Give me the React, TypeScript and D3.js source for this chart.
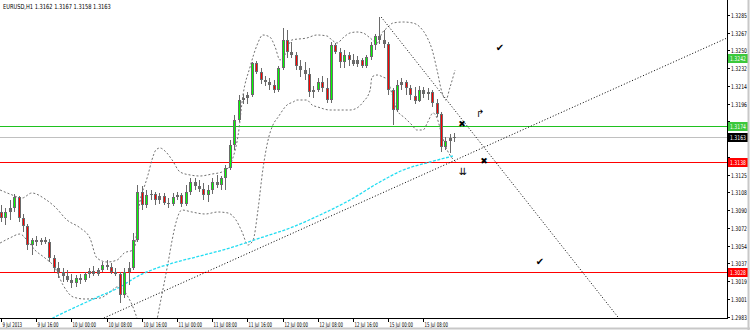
import React from 'react';
import * as d3 from 'd3';

const chartTitle = 'EURUSD,H1  1.3162 1.3167 1.3158 1.3163';

const opens = [1.3088,1.3082,1.3088,1.3092,1.3103,1.3082,1.3074,1.3055,1.3060,1.3058,1.3060,1.3058,1.3042,1.3032,1.3028,1.3024,1.3020,1.3017,1.3022,1.3020,1.3026,1.3029,1.3026,1.3030,1.3035,1.3033,1.3028,1.3026,1.3005,1.3028,1.3032,1.3060,1.3108,1.3095,1.3105,1.3106,1.3100,1.3104,1.3097,1.3096,1.3103,1.3105,1.3096,1.3108,1.3118,1.3114,1.3111,1.3105,1.3110,1.3118,1.3115,1.3122,1.3132,1.3155,1.3180,1.3200,1.3202,1.3205,1.3237,1.3228,1.3220,1.3218,1.3215,1.3210,1.3232,1.3260,1.3248,1.3245,1.3234,1.3230,1.3226,1.3208,1.3210,1.3218,1.3212,1.3200,1.3255,1.3248,1.3238,1.3245,1.3240,1.3236,1.3240,1.3234,1.3243,1.3255,1.3264,1.3260,1.3256,1.3210,1.3190,1.3215,1.3218,1.3212,1.3204,1.3199,1.3210,1.3206,1.3208,1.3197,1.3186,1.3153,1.3159,1.3162];
const highs = [1.3095,1.3092,1.3100,1.3106,1.3104,1.3086,1.3076,1.3062,1.3064,1.3062,1.3063,1.3061,1.3045,1.3038,1.3032,1.3030,1.3026,1.3025,1.3026,1.3028,1.3032,1.3034,1.3032,1.3038,1.3040,1.3037,1.3032,1.3028,1.3032,1.3038,1.3067,1.3115,1.3114,1.3110,1.3110,1.3108,1.3107,1.3107,1.3102,1.3107,1.3108,1.3107,1.3115,1.3122,1.3122,1.3120,1.3117,1.3115,1.3122,1.3125,1.3124,1.3135,1.3160,1.3185,1.3205,1.3206,1.3208,1.3238,1.3239,1.3232,1.3224,1.3222,1.3220,1.3234,1.3272,1.3270,1.3258,1.3248,1.3240,1.3238,1.3232,1.3214,1.3222,1.3224,1.3222,1.3258,1.3257,1.3252,1.3250,1.3248,1.3246,1.3244,1.3242,1.3245,1.3258,1.3266,1.3283,1.3270,1.3258,1.3212,1.3220,1.3222,1.3220,1.3215,1.3213,1.3214,1.3213,1.3212,1.3210,1.3201,1.3188,1.3163,1.3166,1.3167];
const lows = [1.3078,1.3075,1.3080,1.3088,1.3078,1.3068,1.3050,1.3045,1.3054,1.3055,1.3056,1.3038,1.3028,1.3022,1.3018,1.3018,1.3012,1.3013,1.3016,1.3018,1.3022,1.3024,1.3024,1.3028,1.3030,1.3026,1.3024,1.2997,1.3002,1.3015,1.3030,1.3058,1.3090,1.3092,1.3100,1.3095,1.3096,1.3095,1.3092,1.3094,1.3100,1.3093,1.3094,1.3105,1.3110,1.3108,1.3100,1.3098,1.3106,1.3112,1.3110,1.3110,1.3130,1.3150,1.3178,1.3196,1.3196,1.3203,1.3226,1.3216,1.3214,1.3210,1.3207,1.3208,1.3230,1.3242,1.3242,1.3230,1.3223,1.3220,1.3203,1.3202,1.3208,1.3208,1.3197,1.3197,1.3246,1.3232,1.3232,1.3234,1.3234,1.3233,1.3232,1.3232,1.3240,1.3250,1.3256,1.3252,1.3205,1.3175,1.3188,1.3210,1.3205,1.3200,1.3196,1.3198,1.3202,1.3200,1.3193,1.3183,1.3148,1.3150,1.3147,1.3158];
const closes = [1.3082,1.3088,1.3092,1.3103,1.3082,1.3074,1.3055,1.3060,1.3058,1.3060,1.3058,1.3042,1.3032,1.3028,1.3024,1.3020,1.3017,1.3022,1.3020,1.3026,1.3029,1.3026,1.3030,1.3035,1.3033,1.3028,1.3026,1.3005,1.3028,1.3032,1.3060,1.3108,1.3095,1.3105,1.3106,1.3100,1.3104,1.3097,1.3096,1.3103,1.3105,1.3096,1.3108,1.3118,1.3114,1.3111,1.3105,1.3110,1.3118,1.3115,1.3122,1.3132,1.3155,1.3180,1.3200,1.3202,1.3205,1.3237,1.3228,1.3220,1.3218,1.3215,1.3210,1.3232,1.3260,1.3248,1.3245,1.3234,1.3230,1.3226,1.3208,1.3210,1.3218,1.3212,1.3200,1.3255,1.3248,1.3238,1.3245,1.3240,1.3236,1.3240,1.3234,1.3243,1.3255,1.3264,1.3260,1.3256,1.3210,1.3190,1.3215,1.3218,1.3212,1.3205,1.3199,1.3210,1.3206,1.3208,1.3197,1.3186,1.3153,1.3159,1.3162,1.3163];

// Bollinger bands and moving average: [bar index, price]
const upperBand: [number, number][] = [[-0.2,1.3110],[2.0,1.3106],[4.8,1.3102],[7.0,1.3107],[10.0,1.3101],[12.3,1.3093],[15.0,1.3080],[18.0,1.3072],[20.2,1.3062],[21.8,1.3042],[24.1,1.3038],[26.4,1.3040],[28.0,1.3047],[30.0,1.3050],[30.5,1.3055],[31.1,1.3085],[31.8,1.3103],[32.7,1.3115],[33.4,1.3125],[34.3,1.3140],[35.2,1.3150],[36.1,1.3152],[37.5,1.3148],[38.9,1.3140],[40.7,1.3128],[43.0,1.3125],[45.2,1.3124],[48.0,1.3126],[50.2,1.3128],[51.6,1.3132],[52.7,1.3142],[53.9,1.3165],[55.0,1.3205],[56.6,1.3233],[58.2,1.3255],[59.5,1.3265],[61.1,1.3263],[62.3,1.3253],[63.4,1.3240],[64.5,1.3245],[66.1,1.3260],[69.5,1.3262],[71.8,1.3265],[74.1,1.3264],[75.2,1.3260],[76.4,1.3257],[77.7,1.3262],[79.3,1.3267],[80.9,1.3268],[82.3,1.3267],[83.9,1.3262],[85.5,1.3257],[86.6,1.3267],[87.7,1.3272],[89.1,1.3277],[91.4,1.3278],[93.6,1.3277],[95.2,1.3273],[96.8,1.3263],[98.0,1.3250],[99.1,1.3230],[100.2,1.3208],[101.1,1.3200],[102.0,1.3212],[103.2,1.3230]];
const lowerBand: [number, number][] = [[-0.2,1.3057],[2.0,1.3062],[4.3,1.3066],[5.9,1.3060],[7.7,1.3050],[10.0,1.3042],[12.3,1.3032],[14.1,1.3015],[16.4,1.3003],[19.1,1.3001],[22.5,1.3002],[24.8,1.3008],[26.4,1.3013],[27.5,1.3012],[28.6,1.3005],[29.8,1.2995],[30.9,1.2982],[31.8,1.2970],[33.0,1.2960],[34.3,1.2962],[35.2,1.2975],[36.1,1.2995],[37.0,1.3015],[38.0,1.3038],[38.9,1.3060],[39.8,1.3078],[41.1,1.3090],[43.4,1.3088],[46.4,1.3086],[49.3,1.3088],[51.6,1.3087],[53.4,1.3080],[54.8,1.3068],[56.1,1.3055],[57.3,1.3060],[58.4,1.3090],[59.5,1.3130],[60.7,1.3160],[61.8,1.3175],[63.0,1.3183],[65.0,1.3195],[66.4,1.3198],[67.3,1.3200],[69.5,1.3200],[70.7,1.3195],[72.0,1.3193],[74.8,1.3190],[79.3,1.3190],[80.9,1.3192],[82.3,1.3198],[83.9,1.3210],[84.3,1.3223],[85.5,1.3225],[86.8,1.3223],[88.0,1.3220],[88.4,1.3213],[89.1,1.3203],[90.0,1.3190],[91.8,1.3182],[93.4,1.3175],[94.5,1.3170],[95.9,1.3170],[97.0,1.3178],[98.2,1.3187],[99.1,1.3182],[100.2,1.3165],[101.4,1.3150],[102.5,1.3142],[103.4,1.3138]];
const movingAverage: [number, number][] = [[8.9,1.2975],[11.8,1.2982],[18.0,1.2995],[22.5,1.3004],[26.6,1.3012],[31.6,1.3025],[35.5,1.3032],[39.1,1.3037],[45.2,1.3044],[52.0,1.3052],[58.9,1.3062],[65.7,1.3072],[72.5,1.3085],[79.3,1.3100],[86.1,1.3118],[91.4,1.3130],[97.5,1.3138],[102.7,1.3144]];

const trendUp: [number, number][] = [[23.4, 1.2982], [165, 1.3262]];
const trendDown: [number, number][] = [[86.4, 1.3283], [140.2, 1.2983]];

const priceTicks = [1.3285,1.3267,1.3250,1.3232,1.3214,1.3196,1.3179,1.3161,1.3143,1.3125,1.3108,1.3090,1.3072,1.3054,1.3037,1.3019,1.3001,1.2983];
const timeLabels = ['9 Jul 2013','9 Jul 16:00','10 Jul 00:00','10 Jul 08:00','10 Jul 16:00','11 Jul 00:00','11 Jul 08:00','11 Jul 16:00','12 Jul 00:00','12 Jul 08:00','12 Jul 16:00','15 Jul 00:00','15 Jul 08:00'];
const barsPerLabel = 8;

const buyLevel = 1.3174;
const bidLevel = 1.3163;
const sellLevel = 1.3138;
const stopLevel = 1.3028;
const takeProfitTag = 1.3242;

const checkMarks: [number, number][] = [[113.4, 1.3252], [122.5, 1.3038]];
const crossMarks: [number, number][] = [[104.8, 1.3176], [109.8, 1.3139]];
const upArrowAt: [number, number] = [108.9, 1.3186];
const downArrowAt: [number, number] = [105.0, 1.3128];

export default function App() {
  const W = 750, H = 330, PR = 727, PB = 318;
  const x = d3.scaleLinear().domain([0, 165]).range([1, PR]);
  const y = d3.scaleLinear().domain([1.2982, 1.33]).range([PB, 0]);
  const line = d3.line<[number, number]>().x(d => x(d[0])).y(d => y(d[1])).curve(d3.curveMonotoneX);
  const straight = d3.line<[number, number]>().x(d => x(d[0])).y(d => y(d[1]));
  const font = "'DejaVu Sans', 'Liberation Sans', sans-serif";
  const gray = '#6a6a6a';

  const candles = opens.map((o, i) => ({ i, o, h: highs[i], l: lows[i], c: closes[i] }));

  const levelLines = [
    { p: buyLevel, color: '#1fc11f' },
    { p: bidLevel, color: '#c0c0c0' },
    { p: sellLevel, color: '#ff0000' },
    { p: stopLevel, color: '#ff0000' },
  ];
  const tags = [
    { p: takeProfitTag, color: '#3cc83c' },
    { p: buyLevel, color: '#3cc83c' },
    { p: bidLevel, color: '#000000' },
    { p: sellLevel, color: '#ff0000' },
    { p: stopLevel, color: '#ff0000' },
  ];
  const visibleTicks = priceTicks.filter(p => tags.every(t => Math.abs(y(p) - y(t.p)) >= 7.5));

  return (
    <svg width={W} height={H} style={{ position: 'absolute', left: 0, top: 0, background: '#fff' }} fontFamily={font}>
      <defs>
        <clipPath id="plot"><rect x={0} y={0} width={PR} height={PB} /></clipPath>
      </defs>
      <rect x={0} y={0} width={W} height={H} fill="#fff" />
      <text transform="translate(3,9) scale(0.73,1)" fontSize={7} fill="#000">{chartTitle}</text>
      <g clipPath="url(#plot)">
        {levelLines.map((l, k) => (
          <line key={k} x1={0} x2={PR} y1={Math.round(y(l.p)) + 0.5} y2={Math.round(y(l.p)) + 0.5} stroke={l.color} strokeWidth={1} shapeRendering="crispEdges" />
        ))}
        <path d={line(upperBand) || ''} fill="none" stroke="#707070" strokeWidth={1} strokeDasharray="2,2" />
        <path d={line(lowerBand) || ''} fill="none" stroke="#707070" strokeWidth={1} strokeDasharray="2,2" />
        <path d={line(movingAverage) || ''} fill="none" stroke="#22ddf2" strokeWidth={1.3} strokeDasharray="3,1.5" />
        <path d={straight(trendUp) || ''} fill="none" stroke="#000" strokeWidth={1} strokeDasharray="1,2" />
        <path d={straight(trendDown) || ''} fill="none" stroke="#000" strokeWidth={1} strokeDasharray="1,2" />
        {candles.map(d => {
          const cx = Math.round(x(d.i));
          const yo = y(d.o), yc = y(d.c);
          const top = Math.round(Math.min(yo, yc));
          const bot = Math.round(Math.max(yo, yc));
          const bh = Math.max(1, bot - top);
          const bull = d.c > d.o;
          return (
            <g key={d.i} shapeRendering="crispEdges">
              <line x1={cx + 0.5} x2={cx + 0.5} y1={Math.round(y(d.h))} y2={Math.round(y(d.l))} stroke={gray} strokeWidth={1} />
              <rect x={cx - 1} y={top} width={3} height={bh} fill={gray} />
              {bh >= 5 && (
                <rect x={cx} y={top + 1} width={1} height={bh - 2} fill={bull ? '#00ff00' : '#ff0000'} />
              )}
            </g>
          );
        })}
        {checkMarks.map((m, k) => (
          <text key={'c' + k} x={x(m[0])} y={y(m[1])} fontSize={10} textAnchor="middle" dominantBaseline="middle" fill="#000">✔</text>
        ))}
        {crossMarks.map((m, k) => (
          <text key={'x' + k} x={x(m[0])} y={y(m[1])} fontSize={9} fontWeight="bold" textAnchor="middle" dominantBaseline="middle" fill="#000">✖</text>
        ))}
        <text x={x(upArrowAt[0])} y={y(upArrowAt[1])} fontSize={10} textAnchor="middle" dominantBaseline="middle" fill="#000">↱</text>
        <text x={x(downArrowAt[0])} y={y(downArrowAt[1])} fontSize={10} textAnchor="middle" dominantBaseline="middle" fill="#000">⇊</text>
      </g>
      {/* axes */}
      <line x1={PR + 0.5} x2={PR + 0.5} y1={0} y2={PB + 1} stroke="#000" shapeRendering="crispEdges" />
      <line x1={0} x2={PR + 1} y1={PB + 0.5} y2={PB + 0.5} stroke="#000" shapeRendering="crispEdges" />
      {priceTicks.map((p, k) => {
        const ty = Math.round(y(p)) + 0.5;
        return <line key={'t' + k} x1={PR} x2={PR + 3} y1={ty} y2={ty} stroke="#000" shapeRendering="crispEdges" />;
      })}
      {visibleTicks.map((p, k) => {
        const ty = Math.round(y(p)) + 0.5;
        return (
          <text key={'l' + k} transform={`translate(${PR + 4},${ty + 2.5}) scale(0.7,1)`} fontSize={6.5} fill="#000">{p.toFixed(4)}</text>
        );
      })}
      {tags.map((t, k) => {
        const ty = Math.round(y(t.p));
        return (
          <g key={k}>
            <rect x={PR + 1} y={ty - 4} width={20} height={9} fill={t.color} />
            <text transform={`translate(${PR + 3},${ty + 3}) scale(0.7,1)`} fontSize={6.5} fill="#fff">{t.p.toFixed(4)}</text>
          </g>
        );
      })}
      {timeLabels.map((s, k) => {
        const tx = Math.round(x(k * barsPerLabel)) + 0.5;
        return (
          <g key={k}>
            <line x1={tx} x2={tx} y1={PB} y2={PB + 4} stroke="#000" shapeRendering="crispEdges" />
            <text transform={`translate(${tx + 1},${PB + 9}) scale(0.6,1)`} fontSize={6.5} fill="#000">{s}</text>
          </g>
        );
      })}
      <line x1={W - 1.5} x2={W - 1.5} y1={0} y2={H} stroke="#c8c8c8" strokeWidth={2} />
      <line x1={0} x2={W} y1={H - 1.5} y2={H - 1.5} stroke="#c8c8c8" strokeWidth={2} />
    </svg>
  );
}
